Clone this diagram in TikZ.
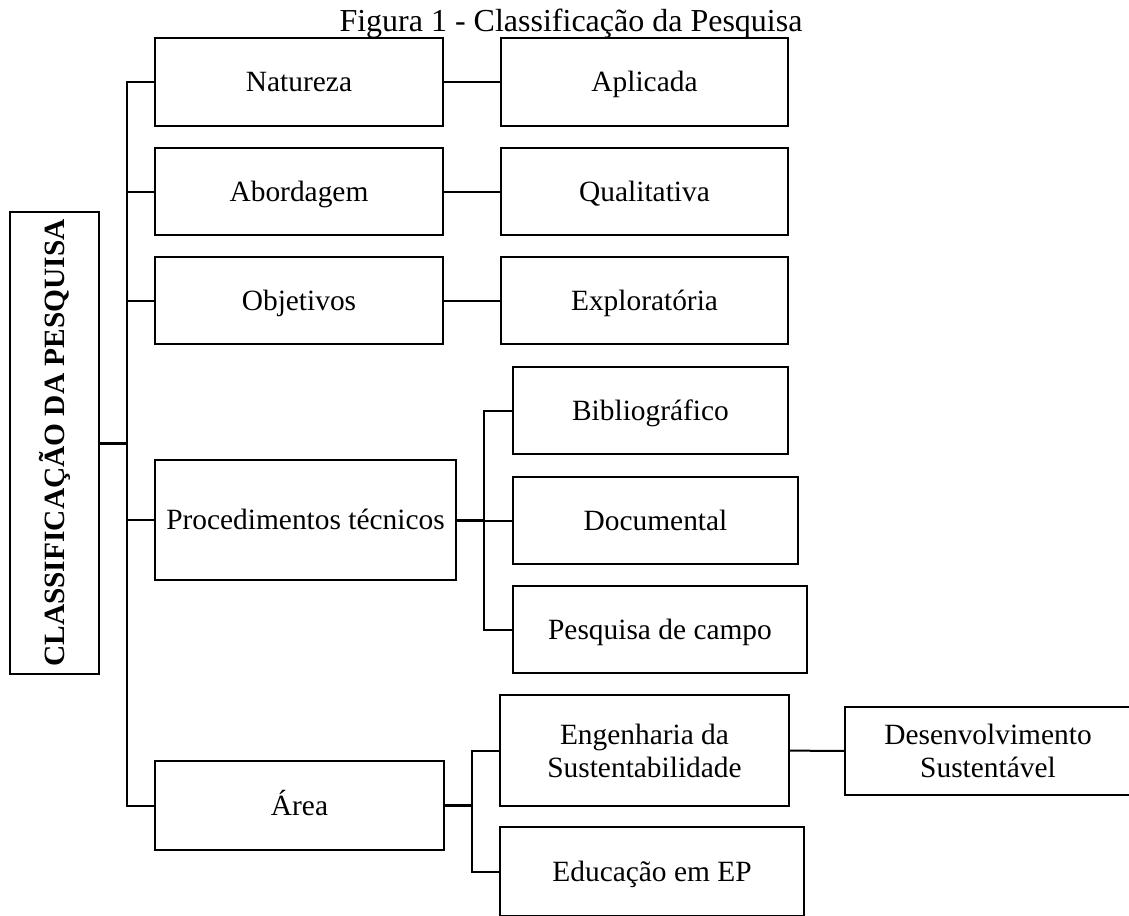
\documentclass[tikz,border=0pt]{standalone}
\usepackage{fontspec}
\setmainfont{Liberation Serif}
\usepackage{graphicx}

\begin{document}
\begin{tikzpicture}[x=1pt, y=-1pt, line width=2pt, box/.style={draw, rectangle, inner sep=0pt, align=center, minimum width=288pt, minimum height=87pt, text height=22pt, text depth=3pt, font=\fontsize{29.4}{33}\selectfont}, two lines/.style={text height={}, text depth={}}, thick line/.style={line width=3pt}]
\useasboundingbox (0,0) rectangle (1129,915);
\node[font=\fontsize{32}{36}\selectfont, anchor=base] (title) at (571,32) {Figura 1 - Classificação da Pesquisa};
\node[box, two lines, minimum width=89pt, minimum height=462pt] (class) at (54.5,443) {\rotatebox{90}{\bfseries CLASSIFICAÇÃO DA PESQUISA}};
\node[box, minimum height=88pt] (nat) at (299,82) {Natureza};
\node[box] (abo) at (299,191.5) {Abordagem};
\node[box] (obj) at (299,300.5) {Objetivos};
\node[box, minimum width=301pt, minimum height=120pt] (proc) at (305.5,520) {Procedimentos técnicos};
\node[box, minimum width=289pt, minimum height=89pt] (area) at (299.5,805.5) {Área};
\node[box, minimum width=287pt, minimum height=88pt] (apl) at (644.5,82) {Aplicada};
\node[box, minimum width=287pt] (qua) at (644.5,191.5) {Qualitativa};
\node[box, minimum width=287pt] (exp) at (644.5,300.5) {Exploratória};
\node[box, minimum width=275pt] (bib) at (650.5,410.5) {Bibliográfico};
\node[box, minimum width=285pt] (doc) at (655.5,520.5) {Documental};
\node[box, minimum width=294pt] (cam) at (660,629.5) {Pesquisa de campo};
\node[box, two lines, minimum width=289pt, minimum height=111pt] (eng) at (644.5,750.5) {Engenharia da\\Sustentabilidade};
\node[box, minimum width=304pt, minimum height=89pt] (edu) at (652,871.5) {Educação em EP};
\node[box, two lines, minimum width=286pt, minimum height=88pt] (des) at (988,751) {Desenvolvimento\\Sustentável};
\coordinate (trunk) at (127,443);
\coordinate (pbranch) at (484,520);
\coordinate (abranch) at (472,805.5);
% main trunk
\draw[thick line] (class.east) -- (trunk);
\draw (trunk) |- (nat.west);
\draw (trunk) |- (abo.west);
\draw (trunk) |- (obj.west);
\draw (trunk) |- (proc.west);
\draw (trunk) |- (area.west);
\path
(nat) edge (apl)
(abo) edge (qua)
(obj) edge (exp)
(eng) edge (des);
% branches
\draw[thick line] (proc.east) -- (pbranch);
\draw (pbranch) |- (bib.west);
\draw (pbranch) |- (doc.west);
\draw (pbranch) |- (cam.west);
\draw[thick line] (area.east) -- (abranch);
\draw (abranch) |- (eng.west);
\draw (abranch) |- (edu.west);
\end{tikzpicture}
\end{document}
